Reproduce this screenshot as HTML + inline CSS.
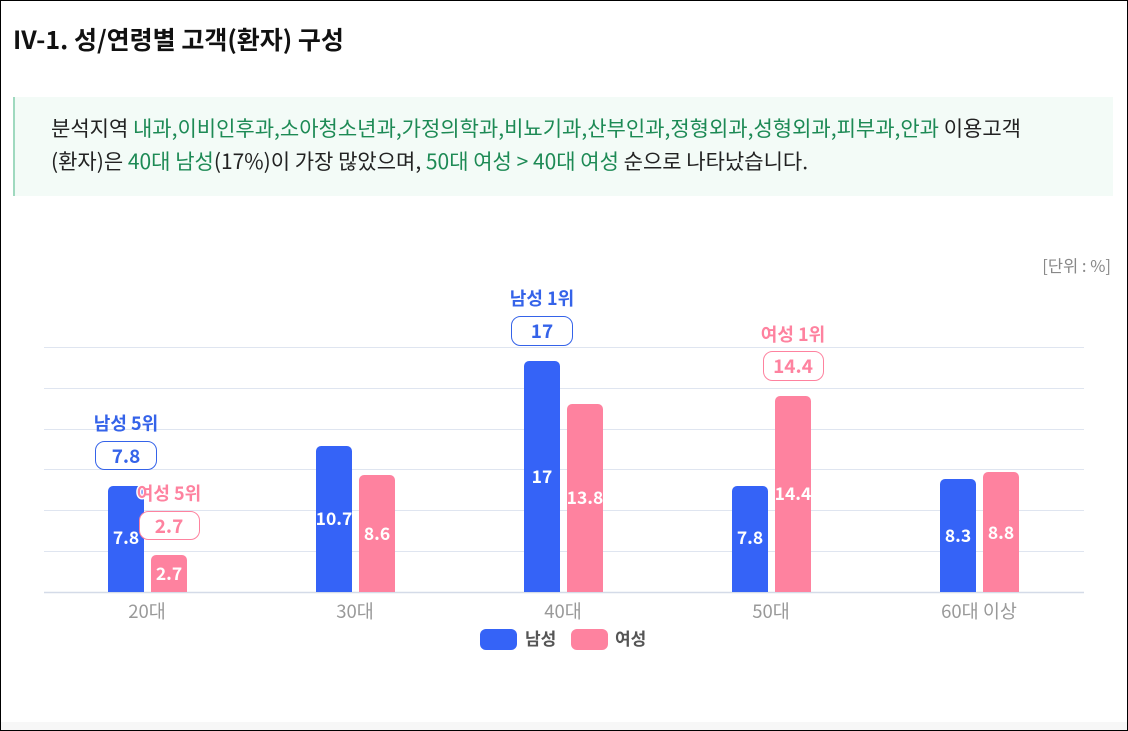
<!DOCTYPE html>
<html><head><meta charset="utf-8"><style>
html,body{margin:0;padding:0;}
body{width:1128px;height:731px;position:relative;overflow:hidden;background:#fff;font-family:"Noto Sans CJK KR","Liberation Sans",sans-serif;}
.frame{position:absolute;left:0;top:0;width:1126px;height:729px;border:1px solid #000;}
.title{position:absolute;left:13px;top:21px;font-size:25px;font-weight:bold;color:#111;line-height:36px;}
.info{position:absolute;left:13px;top:97px;width:1100px;height:99px;background:#f3fbf7;border-left:2px solid #9fd9bf;box-sizing:border-box;}
.info p{margin:0;position:absolute;left:36px;font-size:21px;color:#222;white-space:nowrap;line-height:30px;}
.g{color:#1d8a55;}
.bottom{position:absolute;left:1px;top:722px;width:1126px;height:8px;background:#f7f7f7;}
</style></head><body>
<div class="frame"></div>
<div class="title">IV-1. 성/연령별 고객(환자) 구성</div>
<div class="info">
<p style="top:16px">분석지역 <span class="g">내과,이비인후과,소아청소년과,가정의학과,비뇨기과,산부인과,정형외과,성형외과,피부과,안과</span> 이용고객</p>
<p style="top:49px">(환자)은 <span class="g">40대 남성</span>(17%)이 가장 많았으며, <span class="g">50대 여성 &gt; 40대 여성</span> 순으로 나타났습니다.</p>
</div>
<svg width="1128" height="731" style="position:absolute;left:0;top:0" font-family="Noto Sans CJK KR, Liberation Sans, sans-serif">
<text x="1111" y="272" text-anchor="end" font-size="16.5" fill="#888">[단위 : %]</text>
<g stroke="#dfe5f0" stroke-width="1">
<line x1="44" x2="1084" y1="347.5" y2="347.5"/><line x1="44" x2="1084" y1="388.5" y2="388.5"/>
<line x1="44" x2="1084" y1="429.5" y2="429.5"/><line x1="44" x2="1084" y1="469.5" y2="469.5"/>
<line x1="44" x2="1084" y1="510.5" y2="510.5"/><line x1="44" x2="1084" y1="551.5" y2="551.5"/>
</g>
<line x1="44" x2="1084" y1="592.5" y2="592.5" stroke="#d4dbe8" stroke-width="1.5"/>
<g fill="#3563f7">
<path d="M108 592V491a5 5 0 0 1 5-5h26a5 5 0 0 1 5 5V592z"/>
<path d="M316 592V451a5 5 0 0 1 5-5h26a5 5 0 0 1 5 5V592z"/>
<path d="M524 592V366a5 5 0 0 1 5-5h26a5 5 0 0 1 5 5V592z"/>
<path d="M732 592V491a5 5 0 0 1 5-5h26a5 5 0 0 1 5 5V592z"/>
<path d="M940 592V484a5 5 0 0 1 5-5h26a5 5 0 0 1 5 5V592z"/>
</g>
<g fill="#fe829f">
<path d="M151 592V560a5 5 0 0 1 5-5h26a5 5 0 0 1 5 5V592z"/>
<path d="M359 592V480a5 5 0 0 1 5-5h26a5 5 0 0 1 5 5V592z"/>
<path d="M567 592V409a5 5 0 0 1 5-5h26a5 5 0 0 1 5 5V592z"/>
<path d="M775 592V401a5 5 0 0 1 5-5h26a5 5 0 0 1 5 5V592z"/>
<path d="M983 592V477a5 5 0 0 1 5-5h26a5 5 0 0 1 5 5V592z"/>
</g>
<g fill="#fff" font-size="17.5" font-weight="bold" text-anchor="middle">
<text x="126" y="544">7.8</text><text x="169" y="580">2.7</text>
<text x="334" y="525">10.7</text><text x="377" y="540">8.6</text>
<text x="542" y="483">17</text><text x="585" y="504">13.8</text>
<text x="750" y="544">7.8</text><text x="793" y="500">14.4</text>
<text x="958" y="542">8.3</text><text x="1001" y="539">8.8</text>
</g>
<g font-size="18.5" text-anchor="middle" fill="#999">
<text x="147" y="618">20대</text><text x="355" y="618">30대</text><text x="563" y="618">40대</text><text x="771" y="618">50대</text><text x="979" y="618">60대 이상</text>
</g>
<g font-weight="bold" text-anchor="middle">
<text x="126" y="430" font-size="18" fill="#3563e9">남성 5위</text>
<rect x="95.5" y="441.5" width="61" height="28" rx="9" fill="#fff" stroke="#3563e9"/>
<text x="126" y="463" font-size="19" fill="#3563e9">7.8</text>
<text x="169" y="500" font-size="18" fill="#fe829f" stroke="#fff" stroke-width="3" paint-order="stroke">여성 5위</text>
<rect x="139.5" y="511.5" width="60" height="28" rx="9" fill="#fff" stroke="#fe829f"/>
<text x="169" y="533" font-size="19" fill="#fe829f">2.7</text>
<text x="542" y="305" font-size="18" fill="#3563e9">남성 1위</text>
<rect x="511.5" y="316.5" width="61" height="29" rx="9" fill="#fff" stroke="#3563e9"/>
<text x="542" y="338" font-size="19" fill="#3563e9">17</text>
<text x="793" y="341" font-size="18" fill="#fe829f">여성 1위</text>
<rect x="763.5" y="351.5" width="60" height="29" rx="9" fill="#fff" stroke="#fe829f"/>
<text x="793" y="373" font-size="19" fill="#fe829f">14.4</text>
</g>
<rect x="480" y="629" width="37" height="21" rx="6" fill="#3563f7"/>
<text x="525" y="645" font-size="17" fill="#555" font-weight="bold">남성</text>
<rect x="571" y="629" width="37" height="21" rx="6" fill="#fe829f"/>
<text x="615" y="645" font-size="17" fill="#555" font-weight="bold">여성</text>
</svg>
<div class="bottom"></div>
</body></html>
